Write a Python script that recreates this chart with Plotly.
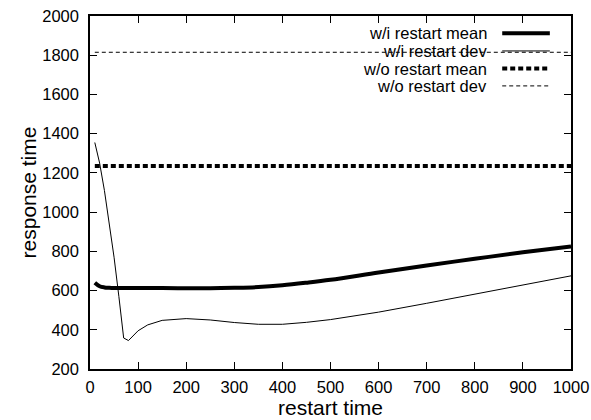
import plotly.graph_objects as go

restart_x = [10, 20, 30, 40, 50, 60, 70, 80, 90, 100, 120, 150, 200, 250, 300, 350, 400, 450, 500, 600, 700, 800, 900, 1000]
wi_mean = [640, 622, 616, 614, 613, 613, 613, 613, 613, 613, 613, 613, 612, 612, 614, 618, 627, 640, 655, 692, 728, 762, 795, 825]
wi_dev = [1355, 1250, 1110, 950, 770, 570, 358, 345, 370, 395, 425, 448, 457, 450, 437, 428, 428, 438, 452, 490, 535, 582, 628, 675]
wo_x = [10, 1000]
wo_mean = [1235, 1235]
wo_dev = [1815, 1815]

labels = ["w/i restart mean", "w/i restart dev", "w/o restart mean", "w/o restart dev"]
FONT = "Liberation Sans, Arial, sans-serif"

fig = go.Figure()
fig.add_trace(go.Scatter(x=wo_x, y=wo_dev, mode="lines", line=dict(color="black", width=1, dash="4px,3px"), name=labels[3]))
fig.add_trace(go.Scatter(x=wo_x, y=wo_mean, mode="lines", line=dict(color="black", width=4, dash="5px,3px"), name=labels[2]))
fig.add_trace(go.Scatter(x=restart_x, y=wi_dev, mode="lines", line=dict(color="black", width=1), name=labels[1]))
fig.add_trace(go.Scatter(x=restart_x, y=wi_mean, mode="lines", line=dict(color="black", width=4, shape="spline"), name=labels[0]))

# gnuplot-style key: text right-aligned, sample to the right
styles = [dict(width=4), dict(width=1), dict(width=4, dash="5px,3px"), dict(width=1, dash="4px,3px")]
ys = [0.951, 0.901, 0.851, 0.802]
for lab, st, yy in zip(labels, styles, ys):
    fig.add_annotation(x=0.829, y=yy, xref="paper", yref="paper", text=lab, showarrow=False,
                       xanchor="right", yanchor="middle", font=dict(family=FONT, size=16.5, color="black"))
    fig.add_shape(type="line", xref="paper", yref="paper", x0=0.857, x1=0.956, y0=yy, y1=yy,
                  line=dict(color="black", **st))

axis_common = dict(showline=True, linecolor="black", linewidth=1.5, mirror="allticks", ticks="inside",
                   ticklen=7, tickcolor="black", tickwidth=1, showgrid=False, zeroline=False, automargin=False,
                   tickfont=dict(family=FONT, size=16.5, color="black"))
fig.update_xaxes(range=[0, 1000], dtick=100, tick0=0, ticklabelstandoff=2,
                 title=dict(text="restart time", font=dict(family=FONT, size=21, color="black"), standoff=0),
                 **axis_common)
fig.update_yaxes(range=[200, 2000], dtick=200, tick0=200, ticklabelstandoff=6,
                 title=dict(text="response time", font=dict(family=FONT, size=21, color="black"), standoff=0),
                 **axis_common)
fig.update_layout(width=591, height=420, margin=dict(l=90, r=20, t=16, b=51),
                  plot_bgcolor="white", paper_bgcolor="white", showlegend=False)
fig.write_html("out.html", config={"displayModeBar": False},
               post_script="document.body.style.margin='0';document.body.style.overflow='hidden';")
